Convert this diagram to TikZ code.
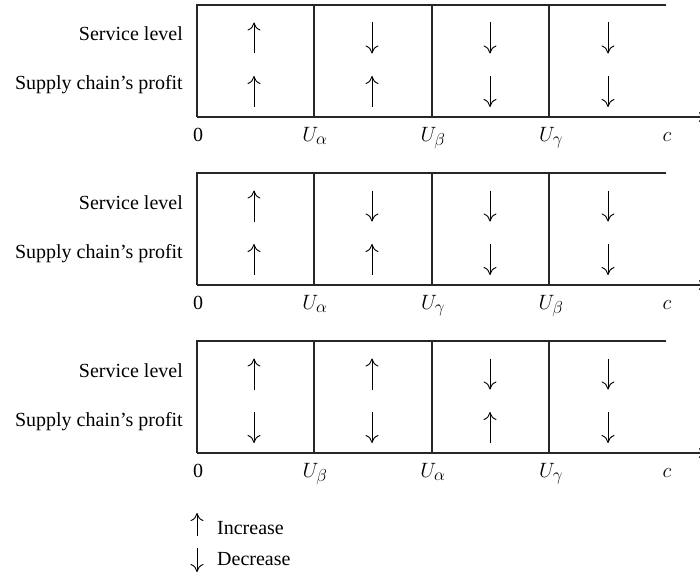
\documentclass[tikz,border=0pt]{standalone}
\usepackage{fontspec}
\setmainfont{Liberation Serif}
\DeclareMathSizes{20}{20}{16}{12}
\usetikzlibrary{arrows.meta}
\begin{document}
\begin{tikzpicture}[x=1pt,y=-1pt,
  frame/.style={line width=1.3pt,black!85},
  sym/.style={line width=0.9pt,-{To[length=8pt,width=13pt]}},
  lbl/.style={font=\fontsize{20}{24}\selectfont, inner sep=0pt},
  axlbl/.style={lbl,anchor=base}]
\useasboundingbox (0,0) rectangle (700,575);
\foreach \o/\la/\lb/\lc/\aa/\ab/\ac/\ad/\ba/\bb/\bc/\bd [count=\i] in {
  0/\alpha/\beta/\gamma/1/-1/-1/-1/1/1/-1/-1,
  168/\alpha/\gamma/\beta/1/-1/-1/-1/1/1/-1/-1,
  336/\beta/\alpha/\gamma/1/1/-1/-1/-1/-1/1/-1}
{
  \begin{scope}[yshift=-\o pt]
    \node[lbl,anchor=base east] (sl\i) at (183,41) {Service level};
    \node[lbl,anchor=base east] (sp\i) at (183,90) {Supply chain’s profit};
    \draw[frame] (666,5) -- (197,5) -- (197,117);
    \draw[frame,-{To[length=6pt,width=10pt]}] (197,117) -- (705,117);
    \foreach \x in {314,432,549} \draw[frame] (\x,5) -- (\x,117);
    \node[axlbl] (z\i) at (198,141) {0};
    \node[axlbl] (ua\i) at (315,141) {$U_{\la}$};
    \node[axlbl] (ub\i) at (433,141) {$U_{\lb}$};
    \node[axlbl] (uc\i) at (551,141) {$U_{\lc}$};
    \node[axlbl] (c\i) at (667,141) {$c$};
    \foreach \x/\s in {254/\aa,372/\ab,490/\ac,608/\ad}
      \draw[sym] (\x,{38+15.5*(\s)}) -- (\x,{38-15.5*(\s)});
    \foreach \x/\s in {254/\ba,372/\bb,490/\bc,608/\bd}
      \draw[sym] (\x,{91.5+15.5*(\s)}) -- (\x,{91.5-15.5*(\s)});
  \end{scope}
}
\draw[sym] (197,536) -- (197,513);
\node[lbl,anchor=base west] (inc) at (217,534) {Increase};
\draw[sym] (197,548) -- (197,572);
\node[lbl,anchor=base west] (dec) at (217,565) {Decrease};
\end{tikzpicture}
\end{document}
